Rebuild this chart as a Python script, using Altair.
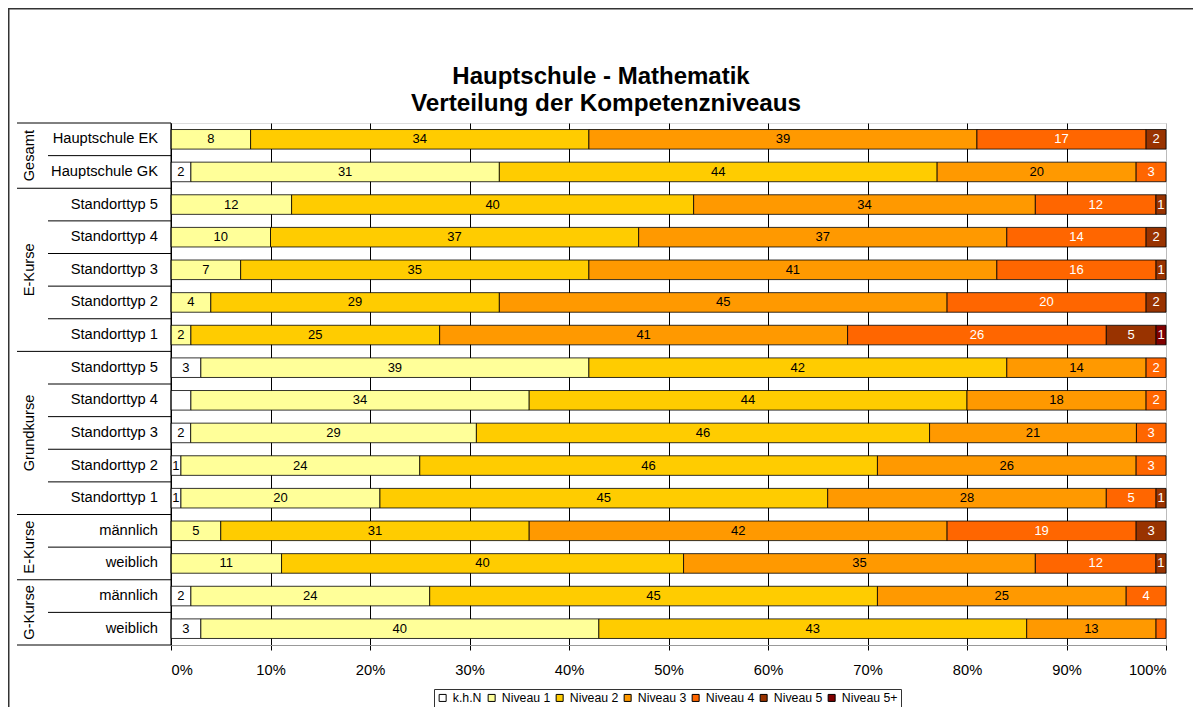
import altair as alt
import pandas as pd

FONT = "Liberation Sans"

title_lines = ["Hauptschule - Mathematik", "Verteilung der Kompetenzniveaus"]

rows = ["Hauptschule EK", "Hauptschule GK",
        "Standorttyp 5", "Standorttyp 4", "Standorttyp 3", "Standorttyp 2", "Standorttyp 1",
        "Standorttyp 5", "Standorttyp 4", "Standorttyp 3", "Standorttyp 2", "Standorttyp 1",
        "männlich", "weiblich", "männlich", "weiblich"]

groups = ["Gesamt", "E-Kurse", "Grundkurse", "E-Kurse", "G-Kurse"]
group_sizes = [2, 5, 5, 2, 2]

levels = ["k.h.N", "Niveau 1", "Niveau 2", "Niveau 3", "Niveau 4", "Niveau 5", "Niveau 5+"]
colors = ["#FFFFFF", "#FFFF99", "#FFCC00", "#FF9900", "#FF6600", "#993300", "#800000"]

khn = [0, 2, 0, 0, 0, 0, 0, 3, 2, 2, 1, 1, 0, 0, 2, 3]
n1 = [8, 31, 12, 10, 7, 4, 2, 39, 34, 29, 24, 20, 5, 11, 24, 40]
n2 = [34, 44, 40, 37, 35, 29, 25, 42, 44, 46, 46, 45, 31, 40, 45, 43]
n3 = [39, 20, 34, 37, 41, 45, 41, 14, 18, 21, 26, 28, 42, 35, 25, 13]
n4 = [17, 3, 12, 14, 16, 20, 26, 2, 2, 3, 3, 5, 19, 12, 4, 1]
n5 = [2, 0, 1, 2, 1, 2, 5, 0, 0, 0, 0, 1, 3, 1, 0, 0]
n5p = [0, 0, 0, 0, 0, 0, 1, 0, 0, 0, 0, 0, 0, 0, 0, 0]

# segments whose value is not printed in the original
hidden_labels = [(8, "k.h.N"), (15, "Niveau 4")]

x_ticks = [0, 0.1, 0.2, 0.3, 0.4, 0.5, 0.6, 0.7, 0.8, 0.9, 1.0]

# ---------- build tables ----------
series = [khn, n1, n2, n3, n4, n5, n5p]
recs = []
for i, r in enumerate(rows):
    for k, lev in enumerate(levels):
        v = series[k][i]
        if v > 0:
            recs.append({"i": i, "row": r, "level": lev, "order": k, "value": v,
                         "show": 0 if (i, lev) in hidden_labels else 1})
df = pd.DataFrame(recs)

rows_df = pd.DataFrame({"i": list(range(len(rows))), "row": rows})
rows_df["yc"] = rows_df["i"] + 0.5

g_recs = []
start = 0
for g, n in zip(groups, group_sizes):
    g_recs.append({"group": g, "yc": start + n / 2})
    start += n
groups_df = pd.DataFrame(g_recs)

bounds = []
gb = [0]
for n in group_sizes:
    gb.append(gb[-1] + n)
for b in range(len(rows) + 1):
    bounds.append({"y": b, "kind": "group" if b in gb else "inner"})
sep_df = pd.DataFrame(bounds)

title_df = pd.DataFrame({"line": [0, 1], "text": title_lines})

W, H = 995, 522
PL, PT, PR, PB = 163, 115, 27, 62

yscale = alt.Scale(domain=[0, len(rows)], reverse=True, nice=False, zero=False)
xscale = alt.Scale(domain=[0, 1], nice=False)

xaxis = alt.Axis(values=x_ticks, format=".0%", title=None, grid=True,
                 gridColor={"condition": {"test": "datum.value >= 1", "value": "#BBBBBB"}, "value": "#000000"},
                 gridWidth=1, domainColor="#999999", tickColor="#000000", tickSize=5,
                 labelFont=FONT, labelFontSize=14.7, labelColor="#000000", labelPadding=12)

base = alt.Chart(df).transform_stack(
    stack="value", groupby=["i"], sort=[alt.SortField("order", order="ascending")],
    offset="normalize", as_=["x0", "x1"]
).transform_calculate(
    xm="(datum.x0 + datum.x1) / 2", y0="datum.i + 0.2", y1="datum.i + 0.8", yc="datum.i + 0.5"
)

bars = base.mark_bar(stroke="#000000", strokeWidth=0.8).encode(
    x=alt.X("x0:Q", scale=xscale, axis=xaxis),
    x2="x1:Q",
    y=alt.Y("y0:Q", scale=yscale, axis=None),
    y2="y1:Q",
    color=alt.Color("level:N", scale=alt.Scale(domain=levels, range=colors),
                    legend=alt.Legend(title=None, orient="none", legendX=263, legendY=566,
                                      direction="horizontal", strokeColor="#333333", padding=2.5,
                                      labelFont=FONT, labelFontSize=12.3, labelColor="#000000",
                                      symbolType="square", symbolSize=49, symbolStrokeColor="#000000",
                                      symbolStrokeWidth=1, labelOffset=4, columnPadding=3)),
)

labels = base.transform_filter("datum.show == 1").mark_text(
    font=FONT, fontSize=13, baseline="middle", align="center"
).encode(
    x=alt.X("xm:Q", scale=xscale, axis=xaxis),
    y=alt.Y("yc:Q", scale=yscale, axis=None),
    text=alt.Text("value:Q"),
    color=alt.condition("datum.order >= 4", alt.value("#FFFFFF"), alt.value("#000000")),
)

row_text = alt.Chart(rows_df).mark_text(
    font=FONT, fontSize=14.7, align="right", baseline="middle", color="#000000"
).encode(
    x=alt.value(-13),
    y=alt.Y("yc:Q", scale=yscale, axis=None),
    text="row:N",
)

group_text = alt.Chart(groups_df).mark_text(
    font=FONT, fontSize=14.7, align="center", baseline="middle", angle=270, color="#000000"
).encode(
    x=alt.value(-141),
    y=alt.Y("yc:Q", scale=yscale, axis=None),
    text="group:N",
)

sep_long = alt.Chart(sep_df).transform_filter("datum.kind == 'group'").mark_rule(
    color="#000000", strokeWidth=1
).encode(x=alt.value(-154), x2=alt.value(0), y=alt.Y("y:Q", scale=yscale, axis=None))

sep_short = alt.Chart(sep_df).transform_filter("datum.kind == 'inner'").mark_rule(
    color="#000000", strokeWidth=1
).encode(x=alt.value(-123), x2=alt.value(0), y=alt.Y("y:Q", scale=yscale, axis=None))

title1 = alt.Chart(title_df).transform_filter("datum.line == 0").mark_text(
    font=FONT, fontSize=24, fontWeight="bold", align="center", baseline="alphabetic", color="#000000"
).encode(x=alt.value(430), y=alt.value(-39.5), text="text:N")
title2 = alt.Chart(title_df).transform_filter("datum.line == 1").mark_text(
    font=FONT, fontSize=24.3, fontWeight="bold", align="center", baseline="alphabetic", color="#000000"
).encode(x=alt.value(435), y=alt.value(-12.5), text="text:N")

frame_df = pd.DataFrame({"k": [0]})
yaxis_line = alt.Chart(frame_df).mark_rule(color="#000000", strokeWidth=1).encode(
    x=alt.value(0), y=alt.value(0), y2=alt.value(H))
frame_top = alt.Chart(frame_df).mark_rule(color="#333333", strokeWidth=1.5).encode(
    x=alt.value(-PL), x2=alt.value(W + PR), y=alt.value(-PT + 0.75))
frame_left = alt.Chart(frame_df).mark_rule(color="#333333", strokeWidth=1.5).encode(
    x=alt.value(-PL + 0.75), y=alt.value(-PT), y2=alt.value(H + PB))

chart = alt.layer(
    sep_long, sep_short, bars, labels, row_text, group_text, yaxis_line,
    title1, title2, frame_top, frame_left
).properties(
    width=W, height=H,
    autosize=alt.AutoSizeParams(type="none"),
    padding={"left": PL, "top": PT, "right": PR, "bottom": PB},
).configure_view(stroke=None).configure(background="#FFFFFF")

chart.save("out.html", embed_options={"renderer": "svg", "actions": False})
